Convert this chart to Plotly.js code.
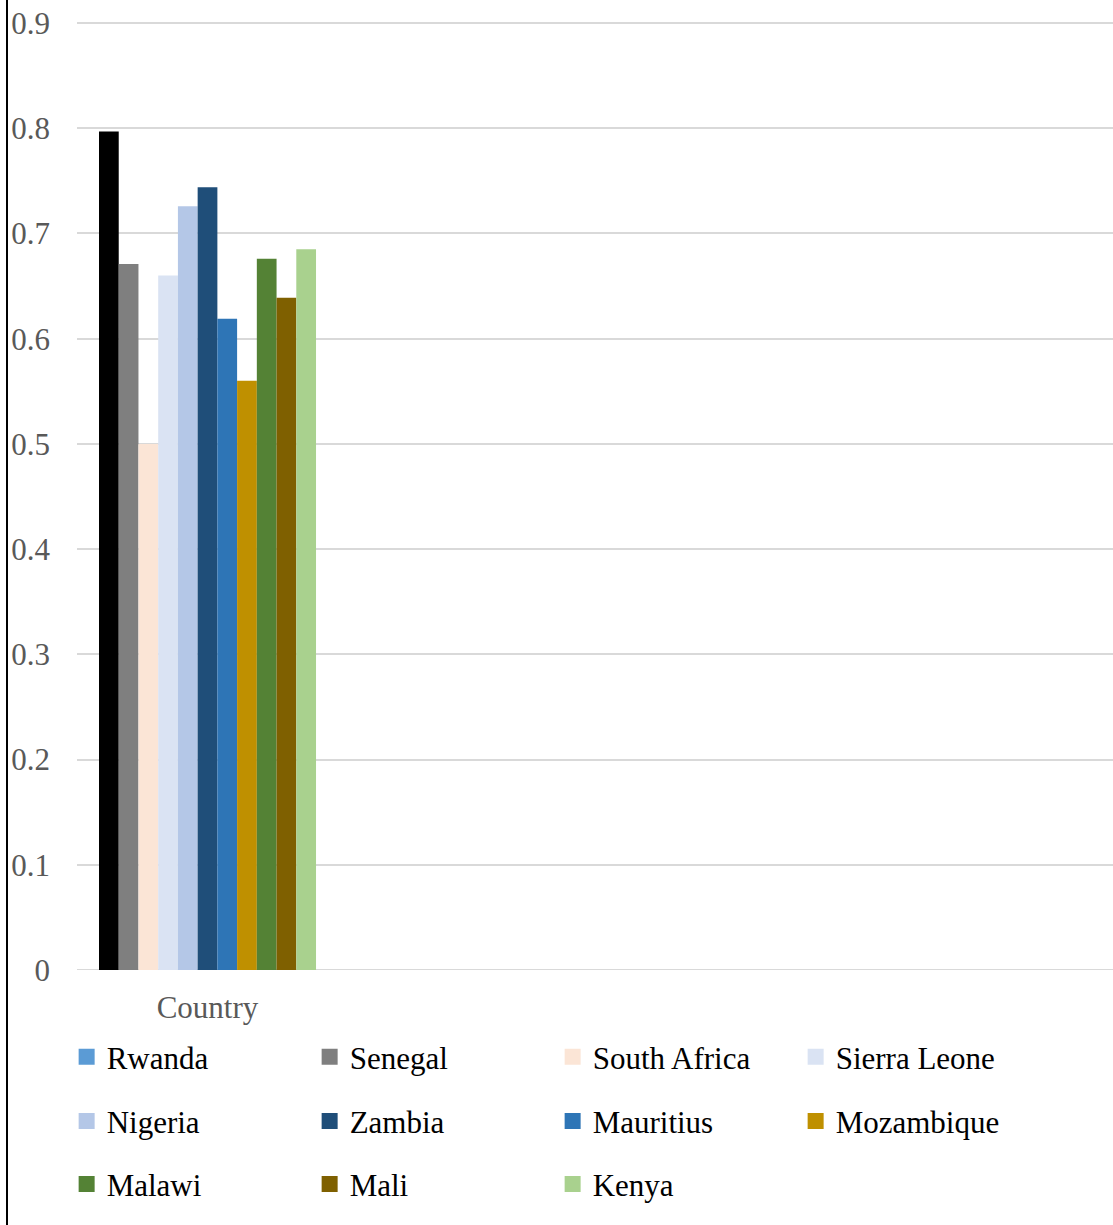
<!DOCTYPE html>
<html>
<head>
<meta charset="utf-8">
<script src="https://cdn.plot.ly/plotly-3.0.1.min.js"></script>
<style>
  html, body { margin: 0; padding: 0; background: #fff; }
  #wrap { position: relative; width: 1113px; height: 1225px; }
  #chart { position: absolute; left: 0; top: 0; width: 1113px; height: 1225px; }
  #frame { position: absolute; left: 6px; top: 0; width: 2px; height: 1225px; background: #000; }
</style>
</head>
<body>
<div id="wrap"><div id="chart"></div><div id="frame"></div></div>
<script>
const category = ["Country"];
const countries = ["Rwanda", "Senegal", "South Africa", "Sierra Leone", "Nigeria", "Zambia", "Mauritius", "Mozambique", "Malawi", "Mali", "Kenya"];
const values = [0.797, 0.671, 0.500, 0.660, 0.726, 0.744, 0.619, 0.560, 0.676, 0.639, 0.685];
const barColors = ["#000000", "#7F7F7F", "#FBE5D6", "#DAE3F3", "#B4C7E7", "#1F4E79", "#2E75B6", "#BF9000", "#548235", "#7F6000", "#A9D18E"];
const legendColors = ["#5B9BD5", "#7F7F7F", "#FBE5D6", "#DAE3F3", "#B4C7E7", "#1F4E79", "#2E75B6", "#BF9000", "#548235", "#7F6000", "#A9D18E"];
const legendRows = ["legend", "legend", "legend", "legend", "legend2", "legend2", "legend2", "legend2", "legend3", "legend3", "legend3"];

const traces = [];
countries.forEach((c, i) => {
  traces.push({
    type: "bar", name: c, x: category, y: [values[i]],
    marker: { color: barColors[i], line: { width: 0 } },
    legendgroup: c, showlegend: false, hoverinfo: "name+y"
  });
});
countries.forEach((c, i) => {
  traces.push({
    type: "scatter", mode: "markers", name: c, x: category, y: [null],
    marker: { symbol: "square", size: 16, color: legendColors[i], line: { width: 0 } },
    legendgroup: c, legend: legendRows[i], showlegend: true, hoverinfo: "skip"
  });
});

const legendBase = {
  orientation: "h", xanchor: "left", yanchor: "middle", x: -0.010,
  entrywidth: 198, entrywidthmode: "pixels", itemwidth: 30,
  font: { family: "Liberation Serif, Times New Roman, serif", size: 31, color: "#000000" },
  bgcolor: "rgba(0,0,0,0)", borderwidth: 0, traceorder: "normal"
};

const layout = {
  width: 1113, height: 1225,
  margin: { l: 77, r: 0, t: 22, b: 255, pad: 0 },
  paper_bgcolor: "#ffffff", plot_bgcolor: "#ffffff",
  font: { family: "Liberation Serif, Times New Roman, serif", size: 31, color: "#595959" },
  barmode: "group", bargap: 0.1686, bargroupgap: 0,
  showlegend: true,
  xaxis: {
    type: "category", range: [-0.5, 3.469], showgrid: false, zeroline: false,
    showline: false, ticks: "", ticklabelstandoff: 16,
    tickfont: { family: "Liberation Serif, Times New Roman, serif", size: 31, color: "#595959" },
    fixedrange: true
  },
  yaxis: {
    range: [0, 0.901], dtick: 0.1, tick0: 0, showgrid: true, gridcolor: "#D9D9D9", gridwidth: 1.5,
    zeroline: false, showline: false, ticks: "", ticklabelstandoff: 26,
    tickfont: { family: "Liberation Serif, Times New Roman, serif", size: 31, color: "#595959" },
    fixedrange: true
  },
  shapes: [{
    type: "line", xref: "paper", yref: "y", x0: 0, x1: 1, y0: 0, y1: 0,
    line: { color: "#D9D9D9", width: 2 }, layer: "below"
  }],
  legend: Object.assign({}, legendBase, { y: -0.092 }),
  legend2: Object.assign({}, legendBase, { y: -0.1596 }),
  legend3: Object.assign({}, legendBase, { y: -0.2261 })
};

Plotly.newPlot("chart", traces, layout, { displayModeBar: false });
</script>
</body>
</html>
